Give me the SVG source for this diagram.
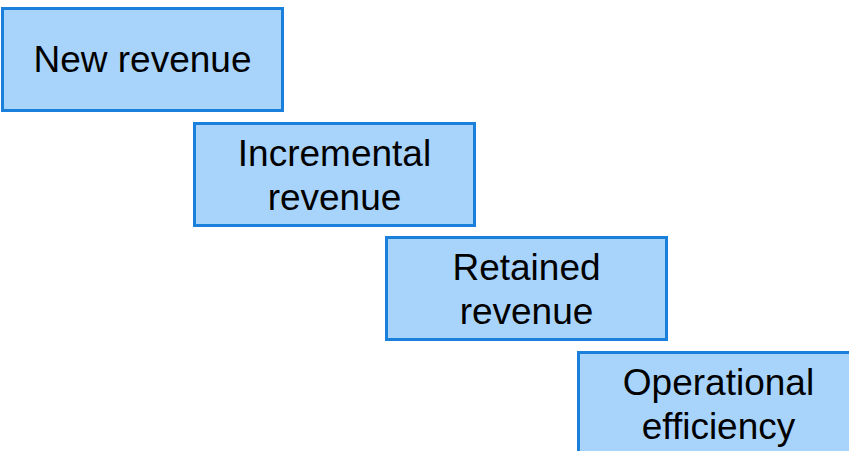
<svg xmlns="http://www.w3.org/2000/svg" width="849" height="451" viewBox="0 0 849 451">
<style>
.box{fill:#a8d4fc;stroke:#1a80dc;stroke-width:3}
.t{font-family:"Liberation Sans",Arial,sans-serif;font-size:37px;fill:#000;text-anchor:middle}
</style>
<rect width="849" height="451" fill="#fff"/>
<g id="connectors"/>
<g id="n1"><rect class="box" x="2.5" y="8.5" width="280" height="102"/><text class="t" x="142.5" y="72">New revenue</text></g>
<g id="n2"><rect class="box" x="194.5" y="123.5" width="280" height="102"/><text class="t" x="334.5" y="166">Incremental</text><text class="t" x="334.5" y="210">revenue</text></g>
<g id="n3"><rect class="box" x="386.5" y="237.5" width="280" height="102"/><text class="t" x="526.5" y="280">Retained</text><text class="t" x="526.5" y="324">revenue</text></g>
<g id="n4"><rect class="box" x="578.5" y="352.5" width="280" height="102"/><text class="t" x="718.5" y="395">Operational</text><text class="t" x="718.5" y="439">efficiency</text></g>
</svg>
